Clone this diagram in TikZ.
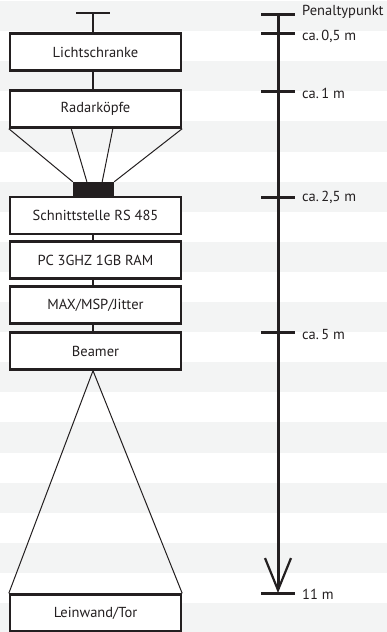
\documentclass[tikz,border=0pt]{standalone}
\usepackage{fontspec}
\setmainfont{PT Sans}
\usetikzlibrary{arrows.meta,calc}
\definecolor{ink}{HTML}{231F20}
\definecolor{stripe}{HTML}{F3F4F4}

\begin{document}
\begin{tikzpicture}[x=1pt, y=-1pt,
  box/.style={draw=ink, line width=2.4pt, fill=white, minimum width=171pt,
    minimum height=37pt, inner sep=0pt, text=ink, font=\fontsize{14.5}{16}\selectfont},
  link/.style={draw=ink, line width=2.4pt},
  fan/.style={draw=ink, line width=1pt},
  axis/.style={draw=ink, line width=3pt},
  dist/.style={anchor=base west, inner sep=0pt, text=ink, font=\fontsize{14.5}{16}\selectfont}]
\useasboundingbox (0,0) rectangle (387,632);
\foreach \k in {0,...,10}
  \fill[stripe] (0,{1+60.2*\k}) rectangle (387,{31.1+60.2*\k});

% signal chain
\coordinate (spine) at (93,13);
\node[box] (licht) at (95.5,52) {Lichtschranke};
\node[box] (radar) at (95.5,109) {Radarköpfe};
\node[box] (rs) at (95.5,215.5) {Schnittstelle RS 485};
\node[box] (pc) at (95.5,260) {PC 3GHZ 1GB RAM};
\node[box] (max) at (95.5,305) {MAX/MSP/Jitter};
\node[box] (beamer) at (95.5,351) {Beamer};
\node[box] (tor) at (95.5,613) {Leinwand/Tor};
\node[fill=ink, minimum width=41pt, minimum height=14pt, inner sep=0pt] (hub) at (93.5,189) {};

\draw[link] ($(spine)+(-17,0)$) -- ($(spine)+(17,0)$);
\draw[link] (spine) -- (licht.north -| spine);
\foreach \a/\b in {licht/radar, rs/pc, pc/max, max/beamer}
  \draw[link] (\a.south -| spine) -- (\b.north -| spine);

\draw[fan] (radar.south west) -- (hub.north west);
\draw[fan] ($(radar.south west)!0.36!(radar.south east)$) -- ($(hub.north west)!0.34!(hub.north east)$);
\draw[fan] ($(radar.south west)!0.6!(radar.south east)$) -- ($(hub.north west)!0.71!(hub.north east)$);
\draw[fan] (radar.south east) -- (hub.north east);

\draw[fan] (tor.north west) -- (beamer.south -| spine) -- (tor.north east);

% distances
\foreach \y/\b/\t [count=\i] in {14/15/Penaltypunkt, 33/40/{ca.\,0,5 m},
    91/98/{ca.\,1 m}, 197/201/{ca.\,2,5 m}, 332/339/{ca.\,5 m}, 593/599/{11 m}} {
  \coordinate (t\i) at (278,\y);
  \draw[axis] ($(t\i)+(-17,0)$) -- ($(t\i)+(17,0)$);
  \node[dist] (d\i) at (302,\b) {\t};
}
\draw[axis, -{Straight Barb[length=32pt, width=26pt, line width=2.2pt]}] (t1) -- (t6);
\end{tikzpicture}
\end{document}
